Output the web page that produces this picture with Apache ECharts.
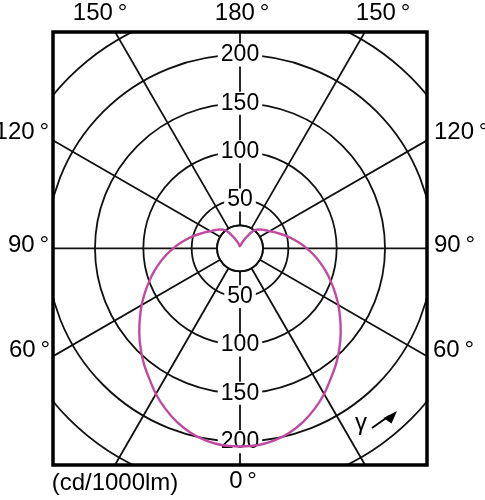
<!DOCTYPE html>
<html><head><meta charset="utf-8">
<script src="https://cdn.jsdelivr.net/npm/echarts@6/dist/echarts.min.js"></script>
<style>html,body{margin:0;padding:0;background:#fff}#c{width:485px;height:500px}</style>
</head><body><div id="c"></div>
<script>
// gamma angle (deg from nadir) and luminous intensity (cd/1000lm), symmetric distribution
const gammaDeg = [0,5,10,15,20,25,30,35,40,45,50,55,60,65,70,75,80,85,90,95,100,105,110,115,120,125,130,135,140,145,150,155,160,165,170,175,180];
const intensity = [205,204.5,202,197.5,191,183,174,164,155,145.5,136,126.5,117.5,108.5,100,92,84,76.5,69,62,55.5,49.5,44,39.5,35.5,32.5,30,27.5,25,20,13,9,6,4,3,2,2];
const radiusTickLabels = [50,100,150,200];
const angleTexts = [
  {t:'150\u2009°', x:100, y:13, a:'center'},
  {t:'180\u2009°', x:242, y:13, a:'center'},
  {t:'150\u2009°', x:383, y:13, a:'center'},
  {t:'120\u2009°', x:49, y:132, a:'right'},
  {t:'120\u2009°', x:434, y:132, a:'left'},
  {t:'90\u2009°', x:49, y:245, a:'right'},
  {t:'90\u2009°', x:434, y:245, a:'left'},
  {t:'60\u2009°', x:50, y:350, a:'right'},
  {t:'60\u2009°', x:433, y:350, a:'left'},
  {t:'0\u2009°', x:243, y:481, a:'center'}
];
const unitText = '(cd/1000lm)';

const FONT = '"Liberation Sans", Arial, sans-serif';
const CENTER = [240, 248.3];
const RMAX = 300;
const ROUT = 290;
const RIN = 23;
const rmin = RIN * RMAX / ROUT;   // inner hole radius in data units (same scale as outer)

// build closed curve: right half then mirrored left half
const data = [];
for (let i = 0; i < gammaDeg.length; i++) data.push([intensity[i], gammaDeg[i]]);
for (let i = gammaDeg.length - 2; i >= 0; i--) data.push([intensity[i], 360 - gammaDeg[i]]);

const lineC = '#111';
const LW = 1.8;
function labelAxis(idx) {
  return {
    polarIndex: idx, type: 'value', min: rmin, max: RMAX, z: 3,
    axisLine: {show: false}, axisTick: {show: false}, splitLine: {show: false},
    axisLabel: {
      show: true, margin: 0, interval: 0, align: 'center', verticalAlign: 'middle',
      formatter: v => (Math.abs(v - Math.round(v)) < 1e-6 && radiusTickLabels.includes(Math.round(v))) ? '{a|' + Math.round(v) + '}' : '',
      rich: {a: {fontFamily: FONT, fontSize: 23, color: '#000', backgroundColor: '#fff', padding: [0, 3, 0, 3], lineHeight: 23}}
    }
  };
}

const graphic = [
  {type:'rect', shape:{x:0,y:0,width:485,height:32}, style:{fill:'#fff'}, z:10, silent:true},
  {type:'rect', shape:{x:0,y:465,width:485,height:35}, style:{fill:'#fff'}, z:10, silent:true},
  {type:'rect', shape:{x:0,y:0,width:53,height:500}, style:{fill:'#fff'}, z:10, silent:true},
  {type:'rect', shape:{x:427,y:0,width:58,height:500}, style:{fill:'#fff'}, z:10, silent:true},
  {type:'rect', shape:{x:53,y:32,width:374,height:433}, style:{fill:'none',stroke:'#000',lineWidth:3.5}, z:11, silent:true},
  {type:'text', x:361, y:423, style:{text:'γ', font:'24px ' + FONT, fill:'#000', align:'center', verticalAlign:'middle'}, z:12},
  {type:'line', shape:{x1:372,y1:428,x2:389,y2:416}, style:{stroke:'#000', lineWidth:1.8}, z:12},
  {type:'polygon', shape:{points:[[397,411],[383.5,418],[391.5,423.5]]}, style:{fill:'#000'}, z:12},
  {type:'text', x:115, y:483, style:{text:unitText, font:'24px ' + FONT, fill:'#000', align:'center', verticalAlign:'middle'}, z:12}
];
angleTexts.forEach(o => graphic.push({type:'text', x:o.x, y:o.y, style:{text:o.t, font:'24px ' + FONT, fill:'#000', align:o.a, verticalAlign:'middle'}, z:12}));

const chart = echarts.init(document.getElementById('c'), null, {renderer:'canvas'});
chart.setOption({
  animation: false,
  backgroundColor: '#fff',
  polar: [
    {center: CENTER, radius: [RIN, ROUT]},
    {center: CENTER, radius: [RIN, ROUT]},
    {center: CENTER, radius: [RIN, ROUT]},
    {center: CENTER, radius: [0, ROUT]}
  ],
  angleAxis: [
    {polarIndex:0, type:'value', min:0, max:360, interval:30, startAngle:270, clockwise:true,
     axisLine:{show:true, lineStyle:{color:lineC, width:LW}}, axisTick:{show:false}, axisLabel:{show:false},
     splitLine:{show:true, lineStyle:{color:lineC, width:LW}}},
    {polarIndex:1, type:'value', min:0, max:360, startAngle:90, show:false},
    {polarIndex:2, type:'value', min:0, max:360, startAngle:270, show:false},
    {polarIndex:3, type:'value', min:0, max:360, startAngle:270, clockwise:true, show:false}
  ],
  radiusAxis: [
    {polarIndex:0, type:'value', min:rmin, max:RMAX,
     axisLine:{show:false}, axisTick:{show:false}, axisLabel:{show:false},
     splitLine:{show:true, lineStyle:{color:lineC, width:LW}}},
    labelAxis(1),
    labelAxis(2),
    {polarIndex:3, type:'value', min:0, max:RMAX, show:false}
  ],
  series: [{
    type:'line', coordinateSystem:'polar', polarIndex:3, data: data,
    symbol:'none', showSymbol:false, clip:false, smooth:0.25, z:5,
    lineStyle:{color:'#c04aa0', width:2.4}
  }],
  graphic: graphic
});
</script></body></html>
